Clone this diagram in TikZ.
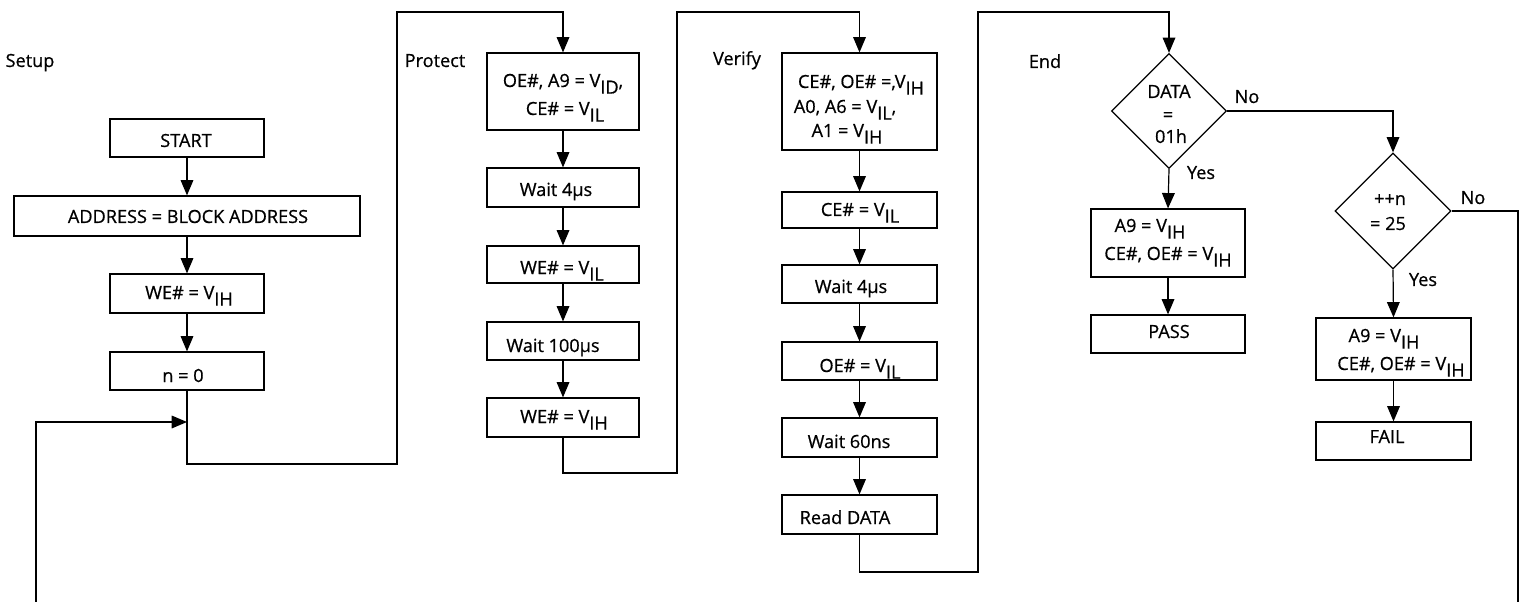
\documentclass[tikz,border=0pt]{standalone}
\usepackage{fontspec}
\setmainfont{Open Sans}[RawFeature={embolden=0.7}]
\usetikzlibrary{arrows.meta,shapes.geometric,fit}
\newcommand\lo[1]{\raisebox{-5pt}{#1}}
\begin{document}
\begin{tikzpicture}[x=0.75pt,y=-0.75pt,line width=0.9pt,
  every node/.style={font=\fontsize{13.6}{16}\selectfont},
  box/.style={draw,rectangle,inner sep=0pt},
  txt/.style={inner sep=0pt,anchor=base},
  arr/.style={-{Triangle[length=11.5pt,width=9.5pt]}},
  dia/.style={draw,diamond,inner sep=0pt,minimum width=#1,minimum height=#1}]
\useasboundingbox (0,0) rectangle (1523,602);

% ---------- Setup
\node[txt] (lsetup) at (30,67) {Setup};
\node[box,fit={(110,119)(264,157)}] (start) {};
\node[box,fit={(14,196)(360,236)}] (addr) {};
\node[box,fit={(110,274)(264,313)}] (we1) {};
\node[box,fit={(110,352)(264,390)}] (n0) {};
\node[txt] (tstart) at (186,147) {START};
\node[txt] (taddr) at (188,223) {ADDRESS = BLOCK ADDRESS};
\node[txt] (twe1) at (189,299) {WE\# = V\lo{IH}};
\node[txt] (tn0) at (183,382) {n = 0};
\draw[arr] (start.south) -- (addr.north);
\draw[arr] (addr.south) -- (we1.north);
\draw[arr] (we1.south) -- (n0.north);
\coordinate (fb) at (36,602);
\coordinate (n0in) at (187,422);
\draw[arr] (fb) |- (n0in);

% ---------- Protect
\node[txt] (lprot) at (435,67) {Protect};
\node[box,fit={(487,53)(639,130)}] (p1) {};
\node[box,fit={(487,168)(639,207)}] (p2) {};
\node[box,fit={(487,246)(639,283)}] (p3) {};
\node[box,fit={(487,322)(639,360)}] (p4) {};
\node[box,fit={(487,398)(639,437)}] (p5) {};
\node[txt] (tp1a) at (563,87) {OE\#, A9 = V\lo{ID},};
\node[txt] (tp1b) at (565,115) {CE\# = V\lo{IL}};
\node[txt] (tp2) at (556,196) {Wait 4µs};
\node[txt] (tp3) at (562,274) {WE\# = V\lo{IL}};
\node[txt] (tp4) at (553,352) {Wait 100µs};
\node[txt] (tp5) at (564,423) {WE\# = V\lo{IH}};
\draw[arr] (n0.south) |- (397,464) |- (563,12) -- (p1.north);
\draw[arr] (p1.south) -- (p2.north);
\draw[arr] (p2.south) -- (p3.north);
\draw[arr] (p3.south) -- (p4.north);
\draw[arr] (p4.south) -- (p5.north);

% ---------- Verify
\node[txt] (lver) at (737,65) {Verify};
\node[box,fit={(782,53)(937,150)}] (v1) {};
\node[box,fit={(782,192)(937,228)}] (v2) {};
\node[box,fit={(782,265)(937,303)}] (v3) {};
\node[box,fit={(782,342)(937,380)}] (v4) {};
\node[box,fit={(782,418)(937,457)}] (v5) {};
\node[box,fit={(782,495)(937,534)}] (v6) {};
\node[txt] (tv1a) at (861,88) {CE\#, OE\# =,V\lo{IH}};
\node[txt] (tv1b) at (845,113) {A0, A6 = V\lo{IL},};
\node[txt] (tv1c) at (847,137) {A1 = V\lo{IH}};
\node[txt] (tv2) at (860,216) {CE\# = V\lo{IL}};
\node[txt] (tv3) at (851,293) {Wait 4µs};
\node[txt] (tv4) at (860,372) {OE\# = V\lo{IL}};
\node[txt] (tv5) at (849,448) {Wait 60ns};
\node[txt] (tv6) at (845,524) {Read DATA};
\draw[arr] (p5.south) |- (677,473) |- (859.5,12) -- (v1.north);
\draw[arr] (v1.south) -- (v2.north);
\draw[arr] (v2.south) -- (v3.north);
\draw[arr] (v3.south) -- (v4.north);
\draw[arr] (v4.south) -- (v5.north);
\draw[arr] (v5.south) -- (v6.north);

% ---------- End
\node[txt] (lend) at (1045,68) {End};
\node[dia=86.25pt] (d1) at (1169,111) {};
\node[txt] (td1a) at (1169,98) {DATA};
\node[txt] (td1b) at (1168,121) {=};
\node[txt] (td1c) at (1171,143) {01h};
\node[txt] (no1) at (1247,103) {No};
\node[txt] (yes1) at (1201,179) {Yes};
\node[box,fit={(1091,209)(1245,277)}] (pa) {};
\node[box,fit={(1091,315)(1245,353)}] (pass) {};
\node[txt] (tpaa) at (1150,232) {A9 = V\lo{IH}};
\node[txt] (tpab) at (1168,260) {CE\#, OE\# = V\lo{IH}};
\node[txt] (tpass) at (1169,338) {PASS};
\node[dia=87pt] (d2) at (1393,211) {};
\node[txt] (td2a) at (1390,205) {++n};
\node[txt] (td2b) at (1388,230) {= 25};
\node[txt] (no2) at (1473,204) {No};
\node[txt] (yes2) at (1423,286) {Yes};
\node[box,fit={(1316,318)(1471,380)}] (fa) {};
\node[box,fit={(1316,422)(1471,460)}] (fail) {};
\node[txt] (tfaa) at (1384,342) {A9 = V\lo{IH}};
\node[txt] (tfab) at (1401,370) {CE\#, OE\# = V\lo{IH}};
\node[txt] (tfail) at (1387,443) {FAIL};
\coordinate (fbr) at (1518,602);
\draw[arr] (v6.south) |- (978,572) |- (1169,12) -- (d1.north);
\draw[arr] (d1.south) -- (pa.north);
\draw[arr] (pa.south) -- (pass.north);
\draw[arr] (d1.east) -| (d2.north);
\draw[arr] (d2.south) -- (fa.north);
\draw[arr] (fa.south) -- (fail.north);
\draw (d2.east) -| (fbr);
\end{tikzpicture}
\end{document}
